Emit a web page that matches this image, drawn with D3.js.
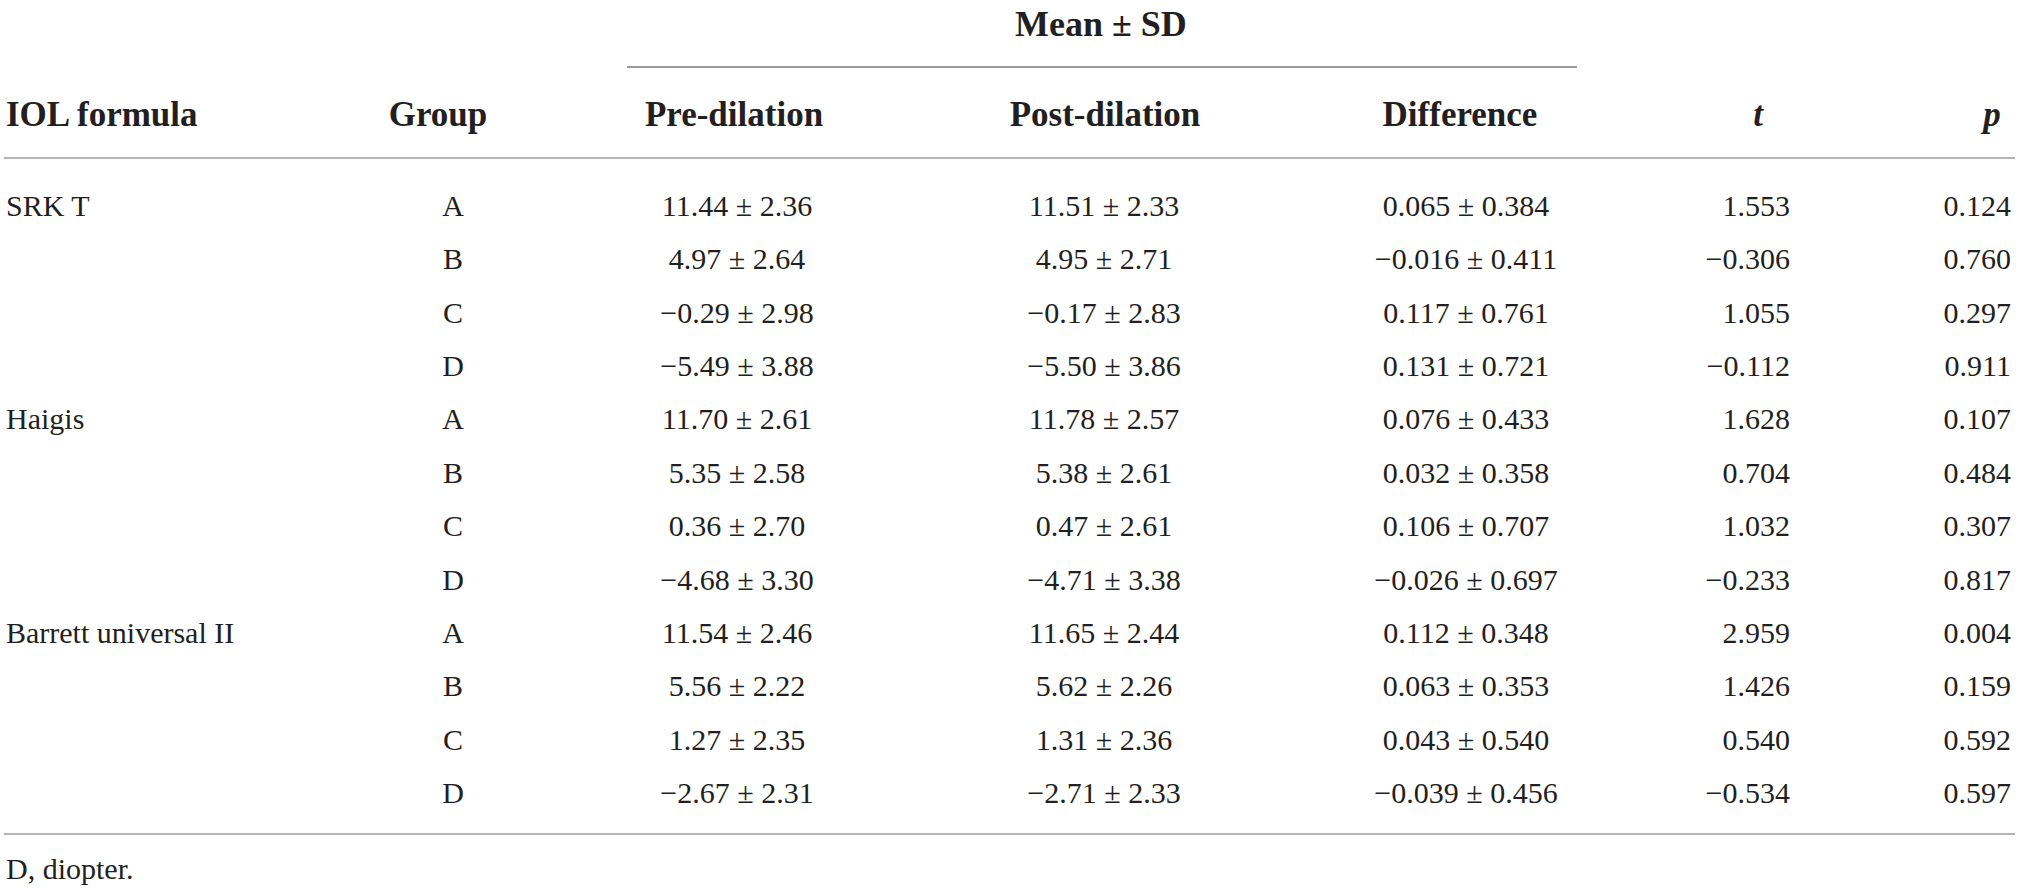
<!DOCTYPE html>
<html>
<head>
<meta charset="utf-8">
<script src="https://cdn.jsdelivr.net/npm/d3@7"></script>
<style>
  body { margin: 0; background: #fff; }
  svg text { font-family: "Liberation Serif", "DejaVu Serif", serif; fill: #231f20; }
</style>
</head>
<body>
<svg width="2019" height="888"></svg>
<script>
// Table content
const formulas = ["SRK T", "Haigis", "Barrett universal II"];
const groups = ["A", "B", "C", "D"];
const columns = ["IOL formula", "Group", "Pre-dilation", "Post-dilation", "Difference", "t", "p"];

const preMean  = [11.44, 4.97, -0.29, -5.49, 11.70, 5.35, 0.36, -4.68, 11.54, 5.56, 1.27, -2.67];
const preSD    = [2.36, 2.64, 2.98, 3.88, 2.61, 2.58, 2.70, 3.30, 2.46, 2.22, 2.35, 2.31];
const postMean = [11.51, 4.95, -0.17, -5.50, 11.78, 5.38, 0.47, -4.71, 11.65, 5.62, 1.31, -2.71];
const postSD   = [2.33, 2.71, 2.83, 3.86, 2.57, 2.61, 2.61, 3.38, 2.44, 2.26, 2.36, 2.33];
const diffMean = [0.065, -0.016, 0.117, 0.131, 0.076, 0.032, 0.106, -0.026, 0.112, 0.063, 0.043, -0.039];
const diffSD   = [0.384, 0.411, 0.761, 0.721, 0.433, 0.358, 0.707, 0.697, 0.348, 0.353, 0.540, 0.456];
const tVals    = [1.553, -0.306, 1.055, -0.112, 1.628, 0.704, 1.032, -0.233, 2.959, 1.426, 0.540, -0.534];
const pVals    = [0.124, 0.760, 0.297, 0.911, 0.107, 0.484, 0.307, 0.817, 0.004, 0.159, 0.592, 0.597];

const svg = d3.select("svg");
const fs = 30, hfs = 35;

// one row per formula x group
const rows = d3.cross(formulas, groups).map(([f, g], i) => ({ f, g, i }));

// row positions (baselines)
const y = d3.scalePoint()
    .domain(d3.range(rows.length))
    .range([216, 803]);

const f2 = d3.format(".2f"), f3 = d3.format(".3f");
const pm = (m, s, f) => `${f(m)} ± ${f(s)}`;

// column anchor x and alignment
const cols = [
  { x: 6,    anchor: "start",  text: r => r.g === "A" ? r.f : "" },
  { x: 453,  anchor: "middle", text: r => r.g },
  { x: 737,  anchor: "middle", text: r => pm(preMean[r.i], preSD[r.i], f2) },
  { x: 1104, anchor: "middle", text: r => pm(postMean[r.i], postSD[r.i], f2) },
  { x: 1466, anchor: "middle", text: r => pm(diffMean[r.i], diffSD[r.i], f3) },
  { x: 1790, anchor: "end",    text: r => f3(tVals[r.i]) },
  { x: 2011, anchor: "end",    text: r => f3(pVals[r.i]) }
];
const headX = [6, 438, 734, 1105, 1460, 1758, 1992];
const headAnchor = ["start", "middle", "middle", "middle", "middle", "middle", "middle"];

// spanning header
svg.append("text")
  .attr("x", 1101).attr("y", 36)
  .attr("text-anchor", "middle")
  .attr("font-size", hfs + 1).attr("font-weight", "bold")
  .text("Mean ± SD");

svg.append("line")
  .attr("x1", 627).attr("x2", 1577).attr("y1", 67).attr("y2", 67)
  .attr("stroke", "#9a9a9a").attr("stroke-width", 2);

// column headers
svg.selectAll(".head")
  .data(columns)
  .join("text")
  .attr("class", "head")
  .attr("x", (d, i) => headX[i])
  .attr("y", 126)
  .attr("text-anchor", (d, i) => headAnchor[i])
  .attr("font-size", hfs)
  .attr("font-weight", "bold")
  .attr("font-style", d => (d === "t" || d === "p") ? "italic" : null)
  .text(d => d);

svg.append("line")
  .attr("x1", 4).attr("x2", 2015).attr("y1", 158).attr("y2", 158)
  .attr("stroke", "#b4b4b4").attr("stroke-width", 2);

// body cells
const rowG = svg.selectAll(".row")
  .data(rows)
  .join("g")
  .attr("class", "row")
  .attr("transform", d => `translate(0,${y(d.i)})`);

cols.forEach(c => {
  rowG.append("text")
    .attr("x", c.x)
    .attr("text-anchor", c.anchor)
    .attr("font-size", fs)
    .text(c.text);
});

svg.append("line")
  .attr("x1", 4).attr("x2", 2015).attr("y1", 834).attr("y2", 834)
  .attr("stroke", "#b4b4b4").attr("stroke-width", 2);

svg.append("text")
  .attr("x", 6).attr("y", 879)
  .attr("font-size", fs)
  .text("D, diopter.");
</script>
</body>
</html>
